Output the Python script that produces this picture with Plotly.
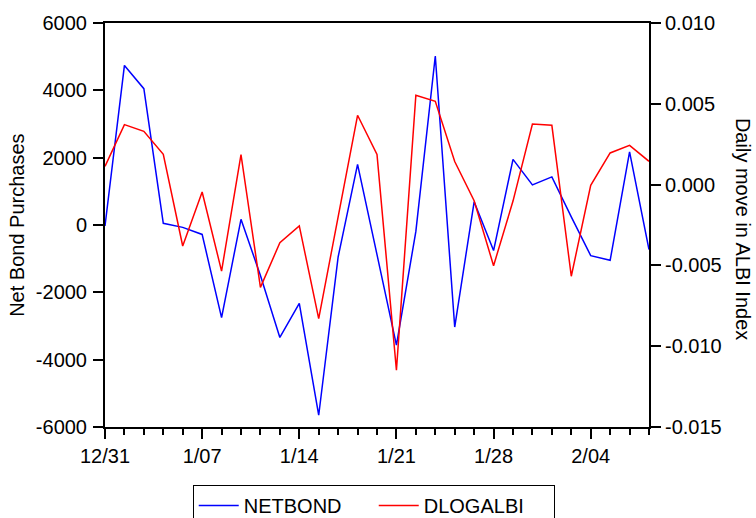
import plotly.graph_objects as go

dates = ["12/31", "1/01", "1/02", "1/03", "1/04", "1/07", "1/08", "1/09", "1/10", "1/11",
         "1/14", "1/15", "1/16", "1/17", "1/18", "1/21", "1/22", "1/23", "1/24", "1/25",
         "1/28", "1/29", "1/30", "1/31", "2/01", "2/04", "2/05", "2/06", "2/07"]
netbond = [-30, 4740, 4050, 50, -70, -280, -2750, 170, -1500, -3340,
           -2330, -5650, -950, 1800, -880, -3570, -190, 5020, -3030, 690,
           -760, 1950, 1190, 1430, 240, -910, -1050, 2170, -730]
dlogalbi = [0.00113, 0.00371, 0.00330, 0.00188, -0.00380, -0.00046, -0.00535, 0.00186, -0.00636, -0.00360,
            -0.00256, -0.00829, -0.00200, 0.00429, 0.00186, -0.01149, 0.00553, 0.00515, 0.00143, -0.00100,
            -0.00502, -0.00102, 0.00375, 0.00367, -0.00567, -0.00004, 0.00196, 0.00243, 0.00144]
major_labels = ["12/31", "1/07", "1/14", "1/21", "1/28", "2/04"]
left_ticks = [6000, 4000, 2000, 0, -2000, -4000, -6000]
right_ticks = [0.010, 0.005, 0.000, -0.005, -0.010, -0.015]

idx = list(range(len(dates)))
major_idx = [dates.index(d) for d in major_labels]

FONT = "Liberation Sans, Arial, sans-serif"
fs = 20

fig = go.Figure()
fig.add_trace(go.Scatter(x=idx, y=netbond, mode="lines", name="NETBOND",
                         line=dict(color="#0000ff", width=1.5)))
fig.add_trace(go.Scatter(x=idx, y=dlogalbi, mode="lines", name="DLOGALBI", yaxis="y2",
                         line=dict(color="#ff0000", width=1.5)))

fig.update_layout(
    width=756, height=518,
    margin=dict(l=105, r=107, t=23, b=91, autoexpand=False),
    paper_bgcolor="white", plot_bgcolor="white",
    font=dict(family=FONT, size=fs, color="black"),
    showlegend=True,
    legend=dict(orientation="h", x=0.494, xanchor="center", y=-0.1436, yanchor="top",
                bordercolor="black", borderwidth=1, font=dict(size=fs),
                entrywidth=125, itemwidth=40),
    xaxis=dict(range=[0, len(dates) - 1], tickmode="array", tickvals=major_idx,
               ticktext=major_labels, ticks="outside", ticklen=10, tickwidth=1.5,
               tickcolor="black", showline=True, linecolor="black", linewidth=2,
               mirror=True, showgrid=False, zeroline=False, automargin=False,
               minor=dict(tickmode="array", tickvals=idx, ticks="outside", ticklen=6,
                          tickwidth=1.5, tickcolor="black", showgrid=False),
               tickfont=dict(size=fs)),
    yaxis=dict(range=[-6000, 6000], tickmode="array", tickvals=left_ticks,
               ticktext=[str(v) for v in left_ticks], ticks="outside", ticklen=10,
               tickwidth=1.5, tickcolor="black", showline=True, linecolor="black",
               linewidth=2, showgrid=False, zeroline=False, tickfont=dict(size=fs),
               ticklabelstandoff=2, automargin=False),
    yaxis2=dict(range=[-0.015, 0.010], overlaying="y", side="right", tickmode="array",
                tickvals=right_ticks, ticktext=["%.3f" % v for v in right_ticks],
                ticks="outside", ticklen=10, tickwidth=1.5, tickcolor="black",
                showline=True, linecolor="black", linewidth=2, showgrid=False,
                zeroline=False, tickfont=dict(size=fs), automargin=False),
    annotations=[
        dict(text="Net Bond Purchases", xref="paper", yref="paper", x=-0.162, y=0.5,
             xanchor="center", yanchor="middle", textangle=-90, showarrow=False,
             font=dict(size=fs)),
        dict(text="Daily move in ALBI Index", xref="paper", yref="paper", x=1.173, y=0.49,
             xanchor="center", yanchor="middle", textangle=90, showarrow=False,
             font=dict(size=fs)),
    ],
)

# remove the browser's default 8px page margin so the figure sits at the window's corner
fig.write_html("out.html", config={"displayModeBar": False},
               post_script="document.body.style.margin='0px';")
